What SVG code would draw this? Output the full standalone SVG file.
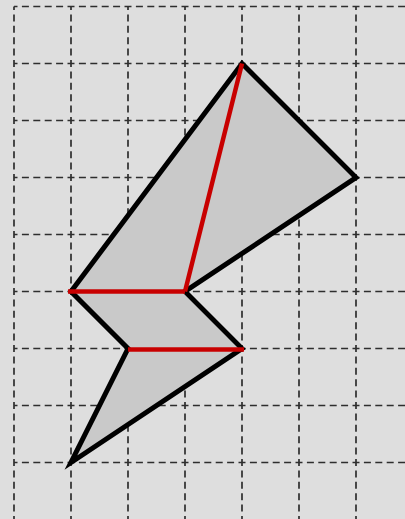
<svg xmlns="http://www.w3.org/2000/svg" width="405" height="519" viewBox="0 0 405 519">
<style>
.grid line{stroke:#2e2e2e;stroke-width:1.7;stroke-dasharray:7 4.4;stroke-dashoffset:3.5}
.shape{fill:#c9c9c9;stroke:#000;stroke-width:5;stroke-linejoin:miter;stroke-miterlimit:4}
.red{stroke:#c80000;stroke-width:4.5;stroke-linecap:butt}
</style>
<rect width="405" height="519" fill="#dedede"/>
<g class="grid" id="grid">
<line x1="14" y1="6.5" x2="14" y2="519"/>
<line x1="71" y1="6.5" x2="71" y2="519"/>
<line x1="128" y1="6.5" x2="128" y2="519"/>
<line x1="185" y1="6.5" x2="185" y2="519"/>
<line x1="242" y1="6.5" x2="242" y2="519"/>
<line x1="299" y1="6.5" x2="299" y2="519"/>
<line x1="356" y1="6.5" x2="356" y2="519"/>
<line x1="14" y1="6.5" x2="405" y2="6.5"/>
<line x1="14" y1="63.5" x2="405" y2="63.5"/>
<line x1="14" y1="120.5" x2="405" y2="120.5"/>
<line x1="14" y1="177.5" x2="405" y2="177.5"/>
<line x1="14" y1="234.5" x2="405" y2="234.5"/>
<line x1="14" y1="291.5" x2="405" y2="291.5"/>
<line x1="14" y1="348.5" x2="405" y2="348.5"/>
<line x1="14" y1="405.5" x2="405" y2="405.5"/>
<line x1="14" y1="462.5" x2="405" y2="462.5"/>
</g>
<g id="figure">
<polygon class="shape" points="242,63.5 356,177.5 185,291.5 242,348.5 71,462.5 128,348.5 71,291.5"/>
</g>
<g id="connectors">
<line class="red" x1="242" y1="63.5" x2="185" y2="291.5"/>
<line class="red" x1="68" y1="291.5" x2="185" y2="291.5"/>
<line class="red" x1="128" y1="349.5" x2="244" y2="349.5"/>
</g>
</svg>
